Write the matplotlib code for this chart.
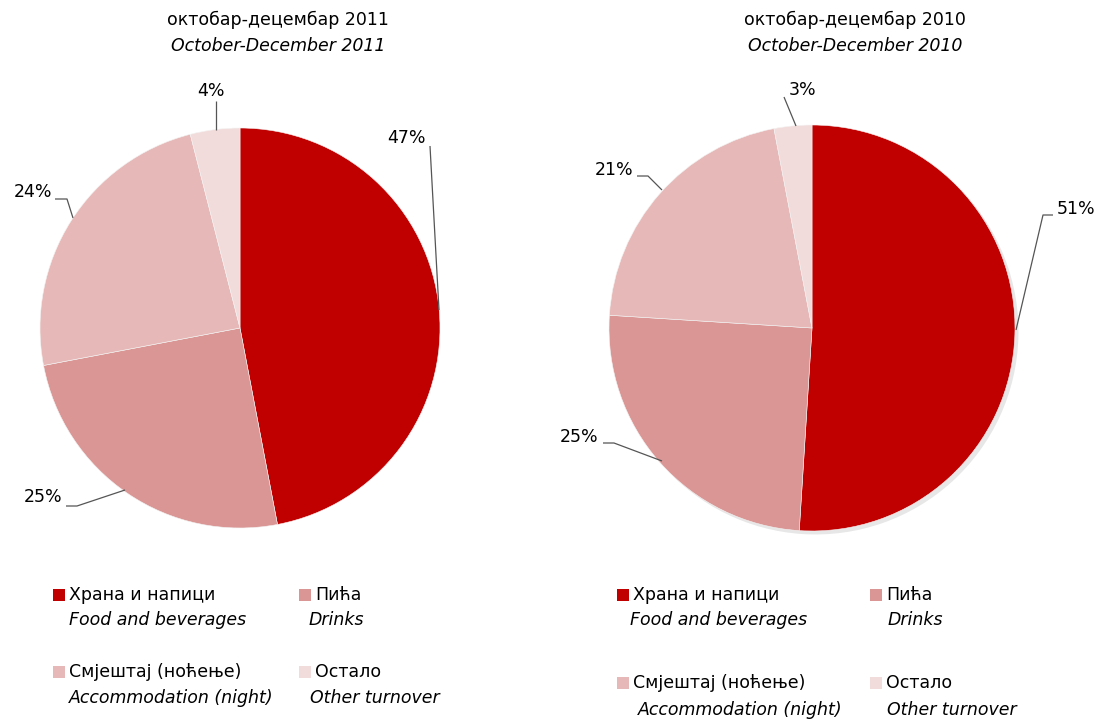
import matplotlib
matplotlib.use("Agg")
import matplotlib.pyplot as plt
from matplotlib.patches import Shadow, Rectangle

plt.rcParams['font.family'] = ['DejaVu Sans']

# ---- data ----
categories_sr = ["Храна и напици", "Пића", "Смјештај (ноћење)", "Остало"]
categories_en = ["Food and beverages", "Drinks", "Accommodation (night)", "Other turnover"]
colors = ["#C00000", "#D99694", "#E6B9B8", "#F2DCDB"]
values_2011 = [47, 25, 24, 4]
values_2010 = [51, 25, 21, 3]
title_2011 = ("октобар-децембар 2011", "October-December 2011")
title_2010 = ("октобар-децембар 2010", "October-December 2010")

W, H = 1101, 721
fig = plt.figure(figsize=(W / 100, H / 100), dpi=100)
ax = fig.add_axes([0, 0, 1, 1])
ax.set_xlim(0, W)
ax.set_ylim(0, H)
ax.set_aspect('equal')
ax.axis('off')


def Y(y):
    return H - y


FS = 12.5
TXT = "#000000"


def draw_pie(values, cx, cy, r, shadow=False):
    wedges, _ = ax.pie(values, colors=colors, startangle=90, counterclock=False,
                       center=(cx, Y(cy)), radius=r, frame=True,
                       wedgeprops=dict(linewidth=0.4, edgecolor='#f4f4f4'))
    if shadow:
        for w in wedges:
            s = Shadow(w, 2.5, -2.5, facecolor='#a0a0a0', edgecolor='none', alpha=0.25)
            s.set_zorder(w.get_zorder() - 0.5)
            ax.add_patch(s)
    return wedges


draw_pie(values_2011, 240, 328, 200)
draw_pie(values_2010, 812, 328, 203, shadow=True)
ax.set_xlim(0, W)
ax.set_ylim(0, H)
ax.axis('off')


def label(txt, x, y, ha, line):
    ax.text(x, Y(y), txt, ha=ha, va='center', fontsize=FS, color=TXT)
    xs = [p[0] for p in line]
    ys = [Y(p[1]) for p in line]
    ax.plot(xs, ys, color='#555555', lw=0.9, solid_capstyle='butt', zorder=5)


# left pie labels
label(f"{values_2011[0]}%", 426, 138, 'right', [(430, 146), (439, 310)])
label(f"{values_2011[1]}%", 62, 497, 'right', [(66, 506), (77, 506), (125, 490)])
label(f"{values_2011[2]}%", 52, 192, 'right', [(55, 199), (67, 199), (73, 218)])
label(f"{values_2011[3]}%", 211, 91, 'center', [(216, 101), (216, 130)])

# right pie labels
label(f"{values_2010[0]}%", 1057, 209, 'left', [(1053, 215), (1043, 215), (1016, 330)])
label(f"{values_2010[1]}%", 598, 437, 'right', [(603, 443), (614, 443), (662, 461)])
label(f"{values_2010[2]}%", 633, 170, 'right', [(637, 176), (648, 176), (662, 190)])
label(f"{values_2010[3]}%", 803, 90, 'center', [(784, 97), (796, 126)])

# titles
for (t_sr, t_en), cx in ((title_2011, 278), (title_2010, 855)):
    ax.text(cx, Y(20), t_sr, ha='center', va='center', fontsize=FS, color=TXT)
    ax.text(cx, Y(46), t_en, ha='center', va='center', fontsize=FS, color=TXT, style='italic')


def legend_item(i, mx, my, tx, ty_sr, ex, ty_en):
    ax.add_patch(Rectangle((mx, Y(my + 6)), 12, 12, facecolor=colors[i], edgecolor='none'))
    ax.text(tx, Y(ty_sr), categories_sr[i], ha='left', va='center', fontsize=FS, color=TXT)
    ax.text(ex, Y(ty_en), categories_en[i], ha='left', va='center', fontsize=FS,
            color=TXT, style='italic')


# left legend
legend_item(0, 53, 595, 69, 595, 69, 620)
legend_item(1, 299, 595, 315, 595, 309, 620)
legend_item(2, 53, 672, 69, 672, 69, 698)
legend_item(3, 299, 672, 315, 672, 310, 698)

# right legend
legend_item(0, 617, 595, 633, 595, 630, 620)
legend_item(1, 870, 595, 886, 595, 888, 620)
legend_item(2, 617, 683, 633, 683, 638, 710)
legend_item(3, 870, 683, 886, 683, 887, 710)

fig.savefig("out.png", dpi=100, facecolor='white')
